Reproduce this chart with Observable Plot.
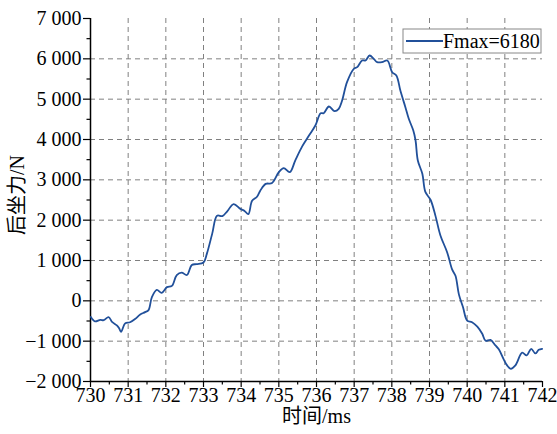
<!DOCTYPE html>
<html>
<head>
<meta charset="utf-8">
<script src="https://cdn.jsdelivr.net/npm/d3@7"></script>
<script src="https://cdn.jsdelivr.net/npm/@observablehq/plot@0.6"></script>
<style>
  html, body { margin: 0; padding: 0; background: #fff; }
  #chart { width: 557px; height: 434px; }
  #chart svg, #chart svg text { font-family: "Liberation Serif", "Noto Sans CJK SC", serif !important; }
</style>
</head>
<body>
<div id="chart"></div>
<script>
// ---- data ----
const times = [730.01,730.12,730.26,730.35,730.48,730.58,730.70,730.76,730.81,730.92,731.05,731.19,731.32,731.45,731.54,731.63,731.76,731.89,732.03,732.16,732.29,732.42,732.56,732.69,732.82,733.00,733.09,733.23,733.36,733.50,733.63,733.80,733.98,734.09,734.19,734.29,734.42,734.51,734.65,734.82,735.00,735.13,735.29,735.44,735.62,735.80,735.97,736.11,736.19,736.33,736.48,736.59,736.68,736.81,736.99,737.08,737.21,737.30,737.41,737.52,737.61,737.74,737.88,738.01,738.12,738.23,738.36,738.45,738.57,738.63,738.69,738.81,738.89,739.03,739.16,739.29,739.47,739.60,739.69,739.78,739.89,740.00,740.13,740.27,740.40,740.49,740.62,740.75,740.84,740.97,741.06,741.16,741.28,741.46,741.58,741.70,741.81,741.90,741.99];
const force = [-400,-510,-470,-480,-405,-530,-610,-680,-770,-560,-530,-445,-340,-280,-230,90,270,200,340,370,640,700,640,890,910,950,1170,1660,2110,2100,2220,2400,2280,2230,2150,2480,2580,2736,2900,2920,3190,3290,3190,3490,3830,4100,4347,4650,4652,4818,4702,4760,4967,5421,5753,5793,5959,5959,6083,6000,5917,5917,5959,5669,5587,5200,4801,4513,4223,3975,3480,3150,2700,2500,2100,1620,1200,780,620,160,-160,-490,-529,-640,-817,-990,-967,-1106,-1200,-1450,-1600,-1685,-1602,-1285,-1354,-1189,-1305,-1214,-1189];
const xTicks = [730,731,732,733,734,735,736,737,738,739,740,741,742];
const xMinor = [730.5,731.5,732.5,733.5,734.5,735.5,736.5,737.5,738.5,739.5,740.5,741.5];
const yTicks = [-2000,-1000,0,1000,2000,3000,4000,5000,6000,7000];
const yMinor = [-1500,-500,500,1500,2500,3500,4500,5500,6500];
const xGrid = [731,732,733,734,735,736,737,738,739,740,741];
const yGrid = [-1000,0,1000,2000,3000,4000,5000,6000];
const xTitle = "时间/ms";
const yTitle = "后坐力/N";
const legendLabel = "Fmax=6180";

const data = times.map((t, i) => ({t, f: force[i]}));
const fmt = d3.formatLocale({decimal: ".", thousands: " ", grouping: [3], currency: ["", ""], minus: "\u2212"}).format(",");

const lineColor = "#21509a";
const gridStyle = {stroke: "#808080", strokeOpacity: 1, strokeWidth: 1, strokeDasharray: "5,4"};

const plot = Plot.plot({
  width: 557,
  height: 434,
  marginLeft: 90,
  marginRight: 15,
  marginTop: 18,
  marginBottom: 53,
  x: {domain: [730, 742]},
  y: {domain: [-2000, 7000]},
  style: {fontSize: "20px", color: "black", background: "white"},
  marks: [
    Plot.gridX(xGrid, gridStyle),
    Plot.gridY(yGrid, gridStyle),
    Plot.axisX(xTicks, {tickSize: 6, tickPadding: 0, tickFormat: d => String(d), strokeWidth: 1.2, label: null}),
    Plot.axisX(xMinor, {tickSize: 3.5, tickFormat: () => "", strokeWidth: 1.2, label: null}),
    Plot.axisY(yTicks, {tickSize: 7, tickPadding: 2, tickFormat: fmt, strokeWidth: 1.2, label: null}),
    Plot.axisY(yMinor, {tickSize: 3.5, tickFormat: () => "", strokeWidth: 1.2, label: null}),
    Plot.ruleX([730], {stroke: "black", strokeWidth: 1.5}),
    Plot.ruleY([-2000], {stroke: "black", strokeWidth: 1.5}),
    Plot.line(data, {x: "t", y: "f", stroke: lineColor, strokeWidth: 1.8, curve: "catmull-rom"}),
    Plot.text([xTitle], {frameAnchor: "bottom", textAnchor: "middle", dy: 41, fontSize: 20}),
    Plot.text([yTitle], {frameAnchor: "left", textAnchor: "middle", dx: -73, dy: -5, rotate: -90, fontSize: 20})
  ]
});

// legend box inside the plot, top-right
const svg = d3.select(plot);
const g = svg.append("g");
const lx = 403, ly = 29, lw = 138, lh = 24;
g.append("rect").attr("x", lx).attr("y", ly).attr("width", lw).attr("height", lh)
  .attr("fill", "white").attr("stroke", "#888").attr("stroke-width", 1);
g.append("line").attr("x1", lx + 3).attr("x2", lx + 40).attr("y1", ly + 12).attr("y2", ly + 12)
  .attr("stroke", lineColor).attr("stroke-width", 2);
g.append("text").attr("x", lx + 40).attr("y", ly + 19).attr("text-anchor", "start")
  .attr("font-size", 20).attr("fill", "black").text(legendLabel);

document.getElementById("chart").appendChild(plot);
</script>
</body>
</html>
